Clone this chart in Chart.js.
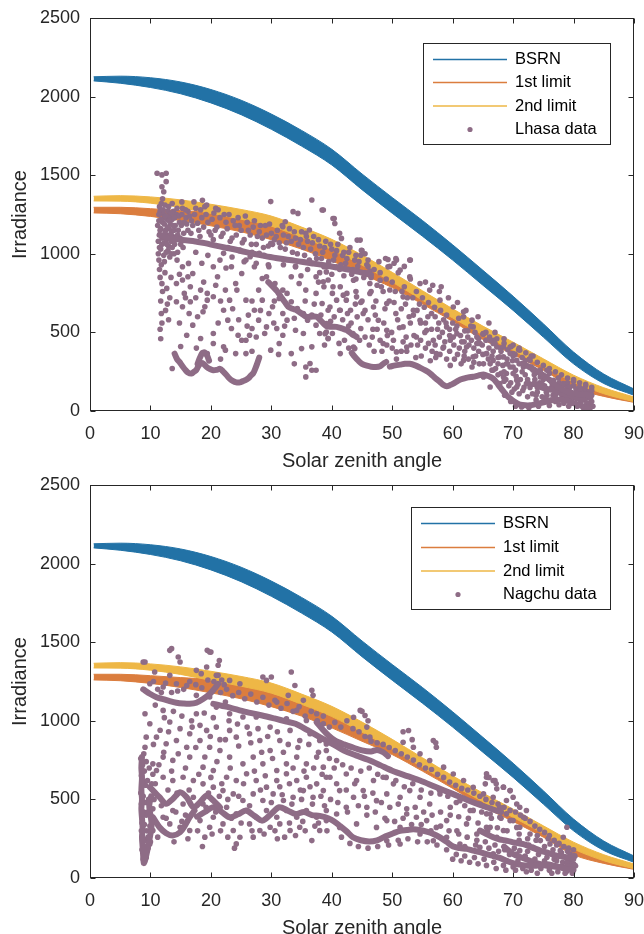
<!DOCTYPE html>
<html><head><meta charset="utf-8">
<script src="https://cdn.jsdelivr.net/npm/chart.js@4.4.1/dist/chart.umd.min.js"></script>
<style>
html,body{margin:0;padding:0;background:#fff;overflow:hidden;width:644px;height:934px;}
#w1{position:absolute;left:0;top:0;width:644px;height:475px;}
#w2{position:absolute;left:0;top:467px;width:644px;height:475px;}
canvas{display:block;}
</style></head><body>
<div id="w1"><canvas id="c1" width="644" height="475"></canvas></div>
<div id="w2"><canvas id="c2" width="644" height="475"></canvas></div>
<script>
// ---------------- data ----------------
const xTickValues = [0,10,20,30,40,50,60,70,80,90];
const yTickValues = [0,500,1000,1500,2000,2500];
const seriesNames = ['BSRN','1st limit','2nd limit'];
const dataNames = ['Lhasa data','Nagchu data'];

const zaGrid      = [0.6,5,10,15,20,25,30,35,40,45,50,55,60,65,70,75,80,85,90];
const bsrnUpper   = [2126,2130,2120,2093,2045,1977,1889,1785,1665,1508,1358,1212,1057,895,730,555,375,235,140];
const bsrnLower   = [2100,2085,2058,2018,1960,1885,1792,1685,1565,1408,1258,1112,960,800,640,470,300,175,100];
const limit1Upper = [1296,1296,1287,1275,1262,1228,1185,1115,1037,938,830,715,602,495,396,294,194,120,66];
const limit1Lower = [1260,1255,1238,1212,1178,1140,1090,1030,955,870,785,680,570,455,360,260,148,93,55];
const limit2Upper = [1366,1370,1362,1343,1315,1282,1240,1170,1092,992,882,765,650,540,438,332,228,148,89];
const limit2Lower = [1336,1335,1322,1295,1257,1220,1176,1105,1027,928,820,705,592,485,386,284,184,110,59];

const lhasaPoints = [
[11.1,1512],[11.9,1502],[12.6,1512],[11.9,1427],[12.6,1459],[12.2,1395],[12.0,1350],[13.6,1320],[15.2,1330],
[11.2,1180],[11.4,1250],[11.5,1300],[11.6,1150],[11.8,1220],[11.9,1100],[12.1,1280],[12.3,1190],[12.4,1130],[12.5,1240],[12.7,1060],[12.8,1170],[13.0,1300],[13.1,1210],[13.3,1120],[13.5,1260],[13.6,1040],[13.8,1180],[14.0,1230],[14.2,1100],[14.4,1290],[14.6,1150],[14.8,1200],[15.0,1060],[15.2,1250],[15.5,1130],[15.8,1280],[16.0,1190],[11.3,1000],[11.7,1030],[12.2,990],[12.6,1010],[13.2,980],[13.9,1000],
[11.5,900],[11.6,850],[11.9,810],[12.0,760],[11.7,700],[11.8,620],[11.9,560],[11.6,520],[11.7,460],[12.4,880],[12.7,780],[13.2,720],[12.5,640],[13.0,580],[13.6,270],
[14.4,960],[15.3,918],[16.3,939],[17.0,875],[16.2,854],[15.3,833],[14.3,811],[16.6,790],[15.6,748],[14.3,695],[15.3,663],[16.6,695],[18.3,769],[19.4,748],[19.0,663],[18.7,631],[20.4,918],[21.1,854],[22.1,1003],[23.4,918],[25.1,875],[24.1,811],[22.4,769],[20.4,727],[19.4,705],[18.3,461],[20.4,429],[22.1,408],[20.4,493],[17.0,546],[16.0,482],[19.4,365],[22.4,387],[23.4,525],[24.5,482],[25.1,450],[25.8,450],[24.1,365],[22.8,578],[22.1,641],[23.1,705],[24.3,769],[25.8,705],[26.2,610],[27.2,641],[27.9,578],[26.8,525],[26.4,482],[27.5,471],[28.9,493],[29.2,535],[29.6,620],[28.5,705],[27.9,769],[28.5,843],[29.6,918],[27.2,918],[25.8,960],[24.8,1024],[26.5,981],[28.0,1003],[29.9,1066],[25.8,365],
[29.2,854],[30.6,811],[31.9,769],[31.3,716],[32.6,748],[33.3,695],[34.3,652],[35.3,620],[36.0,578],[36.7,610],[37.4,546],[38.0,493],[39.1,503],[39.4,461],[35.3,493],[36.7,408],[35.7,280],[36.4,302],[36.7,259],[37.4,259],[35.7,217],[35.0,397],[31.9,482],[31.3,429],[29.9,387],[33.3,365],[30.9,525],[32.6,578],[34.0,514],[31.9,620],[30.2,663],[33.3,854],[34.6,811],[37.4,854],[38.7,790],[40.1,748],[37.4,748],[35.7,769],[34.0,918],[36.7,939],[38.7,918],[39.4,833],[40.8,705],[41.4,641],[40.4,599],[39.4,641],[38.4,684],[41.4,790],[42.5,748],[43.1,641],[44.2,599],[44.8,525],[43.5,493],[42.1,450],[43.8,397],[41.4,365],[40.1,493],
[29.9,1332],[36.7,1342],[38.4,1279],[33.6,1268],[34.4,1257],[32.3,1204],[36.3,1151],[40.4,1225],[44.2,1087],[31.9,1172],[35.7,1130],
[16.5,1240],[17.0,1180],[17.5,1290],[18.0,1150],[18.5,1230],[19.0,1300],[19.5,1200],[20.0,1120],[20.5,1260],[21.0,1170],[21.5,1230],[22.0,1130],[22.5,1200],[23.0,1250],[23.5,1100],[24.0,1180],[24.5,1230],[25.0,1150],[25.5,1090],[26.0,1200],[26.5,1120],[27.0,1170],[27.5,1060],[28.0,1140],[28.5,1100],[29.0,1180],[29.5,1050],[30.0,1130],[17.2,1330],[18.6,1340],[19.3,1310],[20.8,1290],
[30.5,1090],[31.0,1150],[31.5,1040],[32.0,1120],[32.5,1070],[33.0,1160],[33.5,1010],[34.0,1100],[34.5,1060],[35.0,1140],[35.5,990],[36.0,1080],[36.5,1030],[37.0,1110],[37.5,970],[38.0,1050],[38.5,1010],[39.0,1080],[39.5,950],[40.0,1030],[40.5,990],[41.0,1060],[41.5,930],[42.0,1010],[42.5,970],[43.0,1040],[43.5,900],[44.0,990],[44.5,950],[45.0,1020],[45.5,880],[46.0,960],
[38.6,1278],[40.2,1225],[40.5,1193],[41.3,1130],[41.6,1098],[44.7,1087],[44.9,1023],[49.3,964],[50.7,960],[52.9,960],[51.3,896],[49.3,917],[40.8,917],[39.1,885],[38.6,822],[40.2,790],[41.9,737],[42.4,705],[39.7,662],[39.1,556],[38.9,492],[39.4,461],[43.6,407],[41.3,641],[44.1,726],[46.3,811],[45.2,620],[46.9,662],[47.7,577],[49.1,514],[48.5,429],[50.2,450],[50.7,376],[52.4,407],[51.8,535],[53.5,641],[54.6,577],[54.0,471],[55.7,514],[56.8,450],[57.3,365],[58.5,407],[59.6,450],[59.0,535],[60.7,492],[62.3,407],[64.0,429],[61.8,322],[63.4,344],[65.6,365],[66.7,322],[68.4,344],[70.0,280],[68.9,238],[70.6,195],[54.6,811],[56.2,769],[57.9,705],[60.1,662],[61.8,599],[63.4,535],[65.1,492],[66.7,450],[68.4,407],[70.0,365],[51.8,726],[49.1,684],[46.3,747],[43.6,832],[48.0,832],[52.9,853],
[46.0,920],[46.5,850],[47.0,900],[47.5,800],[48.0,880],[48.5,760],[49.0,840],[49.5,700],[50.0,820],[50.5,760],[51.0,880],[51.5,650],[52.0,790],[52.5,720],[53.0,840],[53.5,610],[54.0,760],[54.5,680],[55.0,720],[55.5,560],[56.0,690],[56.5,620],[57.0,660],[57.5,520],[58.0,640],[58.5,580],[59.0,610],[59.5,480],[60.0,560],[60.5,520],[61.0,590],[61.5,440],[62.0,510],[62.5,470],[63.0,540],[63.5,400],[64.0,470],[64.5,430],[65.0,490],
[45.0,700],[45.5,640],[46.0,580],[46.8,520],[47.2,610],[48.0,450],[48.6,560],[49.2,480],[50.0,400],[50.6,620],[51.2,530],[51.8,440],[52.4,380],[53.0,560],[53.6,480],[54.2,420],[54.8,350],[55.4,500],[56.0,430],[56.6,380],[57.2,340],[57.8,470],[58.4,400],[59.0,330],[59.6,290],[60.2,420],[60.8,360],[61.4,300],[62.0,380],[62.6,330],[63.2,280],[63.8,350],[64.4,300],[65.0,360],[44.0,760],[44.8,690],[43.2,560],[42.6,620],[41.8,580],[45.5,470],[46.2,420],[47.0,380],
[48.9,970],[50.6,970],[53.0,960],[50.3,940],[52.0,920],[58.1,790],[61.8,631],[63.2,578],
[65.5,450],[66.0,400],[66.5,350],[67.0,430],[67.5,300],[68.0,380],[68.5,250],[69.0,330],[69.5,280],[70.0,350],[70.5,220],[71.0,300],[71.5,250],[72.0,320],[72.5,180],[73.0,280],[73.5,230],[74.0,150],[74.5,260],[75.0,200],[75.5,120],[76.0,240],[76.5,170],[77.0,100],[77.5,210],[78.0,150],[78.5,90],[79.0,180],[79.5,120],[80.0,200],[80.5,80],[81.0,150],[81.5,100],[82.0,170],[82.5,120],[83.0,60],[83.0,130],[82.2,50],[81.2,60],[79.8,50],[70.2,140],[71.8,150],[73.2,110],[74.8,90],[76.2,70],
[65.1,492],[66.2,450],[67.3,407],[65.6,365],[67.8,344],[69.5,365],[68.9,301],[70.6,323],[71.7,280],[66.7,259],[65.1,216],[68.4,216],[70.0,238],[72.8,323],[73.3,259],[74.5,216],[75.6,259],[76.7,195],[78.3,174],[79.4,153],[81.1,131],[82.2,110],[72.2,174],[70.6,153],[67.8,174],[66.2,153],[69.5,407],[71.1,386]
];

const lhasaMorePoints = [
[11.3,1080],[11.4,1210],[11.5,1040],[11.6,1270],[11.7,1160],[11.8,1320],[11.9,1060],[12.0,1200],[12.1,1110],[12.2,1250],[12.3,1070],[12.4,1310],[12.5,1150],[12.6,1090],[12.7,1220],[12.8,1120],[12.9,1270],[13.0,1050],[13.1,1160],[13.2,1240],[13.3,1190],[13.4,1080],[13.5,1140],[13.6,1220],[13.7,1110],[13.8,1270],[13.9,1150],[14.0,1060],[14.1,1180],[14.3,1250],[14.5,1120],[14.7,1240],[14.9,1100],[15.1,1180],[15.3,1290],[15.6,1200],[15.9,1230],[16.2,1150],[11.4,960],[11.8,930],[12.3,950],[12.9,1020],[13.4,1000],[14.5,1010],[15.4,1040],
[16.2,1270],[16.8,1210],[17.3,1250],[17.8,1195],[18.3,1280],[18.8,1170],[19.2,1250],[19.7,1140],[20.2,1220],[20.7,1150],[21.2,1280],[21.7,1110],[22.2,1250],[22.7,1160],[23.2,1080],[23.7,1210],[24.2,1120],[24.7,1180],[25.2,1070],[25.7,1240],[26.2,1150],[26.7,1060],[27.2,1210],[27.7,1110],[28.2,1180],[28.7,1040],[29.2,1120],[29.7,1190],[30.2,1060],[16.7,1130],[18.2,1110],[20.4,1090],[22.8,1040],[24.8,1020],[26.8,1010],[28.8,990],
[17.5,1010],[19.5,990],[21.5,960],[23.5,980],[25.5,950],[27.5,940],[29.5,930],[18.5,940],[22.5,910],
[30.8,1110],[31.3,1070],[31.8,1180],[32.3,1030],[32.8,1110],[33.3,1080],[33.8,1140],[34.3,1000],[34.8,1090],[35.3,1040],[35.8,1110],[36.3,960],[36.8,1070],[37.3,1000],[37.8,1090],[38.3,970],[38.8,1040],[39.3,920],[39.8,1060],[40.3,960],[40.8,1020],[41.3,900],[41.8,990],[42.3,940],[42.8,1010],[43.3,870],[43.8,960],[44.3,920],[44.8,990],[45.3,850],[45.8,930],[46.3,890],[32,930],[34,920],[36,900],[38,880],[40,870],[42,860],[44,840],
[46.5,760],[47.3,700],[48.2,790],[48.8,650],[49.6,770],[50.3,690],[50.9,580],[51.6,760],[52.2,680],[52.8,600],[53.4,720],[54.1,640],[54.7,560],[55.3,660],[55.9,600],[56.5,520],[57.1,600],[57.7,560],[58.3,500],[58.9,560],[59.5,520],[60.1,470],[60.7,540],[61.3,480],[61.9,440],[62.5,510],[63.1,450],[63.7,500],[64.3,460],[64.9,420],[65.5,500],[66.1,470],[66.7,430],[67.3,460],[67.9,400],[68.5,430],[69.1,390],[69.7,410],[70.3,360],[70.9,390],[71.5,340],[72.1,370],[72.7,330],[73.3,350],
[46.7,470],[47.5,520],[48.3,380],[49.1,420],[49.9,500],[50.7,330],[51.5,380],[52.3,470],[53.1,420],[53.9,340],[54.7,450],[55.5,400],[56.3,320],[57.1,420],[57.9,360],[58.7,440],[59.5,380],[60.3,330],[61.1,400],[61.9,350],[62.7,420],[63.5,310],[64.3,380],[65.1,300],[65.9,330],[66.7,380],[67.5,340],[68.3,290],[69.1,300],[69.9,320],
[55.5,820],[56.7,800],[57.8,760],[59.3,720],[60.8,690],[62.2,640],[64.2,600],[66.0,560],[45.5,1000],[47.8,950],[49.6,920],
[66.2,300],[67.1,270],[68.0,240],[68.8,200],[69.6,180],[70.4,260],[71.2,200],[72.0,230],[72.8,150],[73.6,200],[74.4,180],[75.2,160],[76.0,200],[76.8,140],[77.6,180],[78.4,120],[79.2,140],[80.0,160],[80.8,120],[81.6,140],[82.4,90],[83.0,100],[71.0,110],[72.4,90],[73.8,70],[75.0,60],[76.6,100],[78.0,80],[79.4,70],[80.6,100],[81.8,70],[82.8,40],
[74,310],[75,290],[76,270],[77,250],[78,230],[79,210],[80,190],[81,180],[82,160],[83,150],[73,350],[71,400],[70,420],[68.5,460],[67,500],
[14.8,870],[15.8,720],[17.5,720],[18.8,820],[20.8,800],[21.6,700],[23.6,650],[24.6,580],[26.8,700],[28.2,640],[30.4,560],[32.2,540],[33.8,590],[35.6,700],[37.1,680],[38.2,610],[39.8,570],[42.8,540],[43.9,680],[44.6,450],[17.8,600],[21.2,560],[26.0,540],[30.5,700],[34.9,860],[37.8,820],[12.8,680],[13.4,850],[14.8,560],[16.4,620],[15.0,410],[17.6,400],[21.6,330],[26.8,380],[31.2,360],[33.8,300],[38.8,420],[41.2,430],[42.8,400],
[66.5,260],[67.5,230],[68.5,190],[69.3,160],[70.8,170],[71.6,130],[72.4,200],[73.2,170],[74.0,120],[74.8,170],[75.6,100],[76.4,150],[77.2,130],[78.0,110],[78.8,160],[79.6,100],[80.4,140],[81.2,110],[82.0,130],[82.8,80],[83.2,30],[81.6,20],[80.6,30],[79.2,30],[77.6,40],[76.0,35],[74.2,30],[72.6,20],[71.4,25],[70.4,30],[69.6,60],[68.6,100],[69.8,120],[73.8,100],[75.4,80],[77.0,60],[78.4,50]
];

const lhasaTrails = [
[[11.5,1120],[13,1100],[15,1090],[17,1082],[19,1068],[21,1050],[23,1035],[25,1018],[27,1000],[29,985],[31,972],[33,960],[35,950],[37,938],[39,926],[41,912],[43,898],[45,880],[46.5,866]],
[[14.0,365],[14.4,330],[14.8,312],[15.3,285],[15.7,265],[16.2,245],[16.8,238],[17.2,250],[17.6,262],[18.0,290],[18.4,305],[18.8,300],[19.3,280],[19.8,268],[20.4,259],[21.0,262],[21.5,268],[22.0,252],[22.5,232],[23.1,206],[23.6,192],[24.2,182],[24.8,182],[25.3,190],[25.8,198],[26.2,208],[26.6,225],[27.0,240],[27.3,265],[27.6,295],[28.0,340]],
[[17.8,300],[18.2,340],[18.6,370],[19.0,372],[19.4,350],[19.7,320]],
[[43.3,370],[43.8,345],[44.4,320],[45.0,300],[45.8,288],[46.5,282],[47.3,280],[48.0,285],[48.5,300],[49.0,312]],
[[49.6,282],[50.5,290],[51.3,295],[52.1,300],[52.9,300],[53.8,290],[54.6,276],[55.5,258],[56.3,238],[57.1,210],[57.9,185],[58.5,165],[59.0,157],[59.6,165],[60.1,174],[61.0,195],[61.8,206],[62.6,214],[63.4,218],[64.2,225],[65.1,232],[65.9,222],[66.7,206],[67.3,180],[67.8,153],[68.4,125],[68.9,100],[69.5,80],[70.1,62],[70.7,48],[71.2,40],[72.0,36],[72.8,36],[73.6,42],[74.5,50],[75.6,60],[76.7,70],[77.8,72],[78.9,66],[80.0,50],[81.1,36],[82.0,24],[82.7,16]],
[[71.5,300],[72.7,280],[74.0,250],[75.4,217],[76.4,185],[77.4,153],[78.8,125],[80.2,110],[81.5,105],[82.9,100]],
[[73.5,175],[74.5,153],[75.6,140],[76.7,132],[77.8,115],[78.9,100],[80.0,88],[81.1,78],[82.0,82],[82.7,89]],
[[29.5,820],[30.3,790],[31.0,760],[31.6,726],[32.2,695],[32.8,663],[33.5,650],[34.2,641],[35.0,620],[35.8,599],[36.6,600],[37.5,599],[38.3,570],[39.1,540],[40.0,536],[40.8,535],[41.7,525],[42.5,514],[43.3,490],[44.1,472]]
];

const nagchuPoints = [
[8.8,1374],[13.2,1448],[14.6,1406],[19.4,1448],[20.0,1437],[21.4,1384],[33.3,1310],[13.5,1459],[19.8,1438],[14.9,1374],[21.2,1353],[19.3,1342],[9.1,1374],[10.7,1310],[13.2,1289],[17.6,1321],[18.4,1300],[20.9,1289],[23.1,1257],[24.8,1236],[28.6,1279],[30.0,1279],[29.2,1257],[33.9,1225],[36.7,1194],[36.9,1162],[35.3,1130],[32.8,1162],[30.9,1119],[34.2,1066],[37.5,1045],[38.6,981],[35.8,1002],[32.5,1013],[29.8,960],[27.5,1024],[25.3,1024],[23.1,1045],[20.9,1087],[19.8,1151],[17.6,1162],[16.0,1225],[14.3,1236],[12.1,1215],[9.9,1236],
[9.1,1045],[12.1,1066],[9.9,981],[13.2,992],[17.6,1045],[18.2,971],[19.3,939],[16.5,918],[20.9,960],[23.1,939],[24.2,896],[26.4,918],[28.1,875],[29.8,811],[31.4,875],[33.1,939],[34.7,875],[36.4,918],[38.0,875],[39.1,811],[37.5,769],[35.8,726],[34.2,769],[32.5,726],[30.9,684],[28.6,726],[27.0,769],[25.3,726],[23.1,769],[21.5,811],[19.8,832],[18.2,875],[16.0,832],[14.3,875],[12.6,854],[11.0,896],[9.3,896],[9.1,832],[13.7,748],[12.1,769],[10.4,726],[16.5,769],[18.7,705],[20.4,684],[22.6,641],[24.2,620],[25.9,663],[27.5,620],[29.2,578],[30.9,620],[32.5,663],[34.2,620],[35.8,641],[37.5,599],[39.1,641],[38.6,556],[36.9,514],[35.3,556],[33.6,514],[32.0,493],[30.3,535],[28.6,493],[27.0,535],[25.3,493],[23.7,535],[22.0,556],[20.4,578],[18.7,599],[17.1,620],[15.4,641],[13.7,620],[12.1,641],[11.0,684],
[22.6,450],[24.2,408],[25.9,429],[27.5,386],[29.2,429],[30.9,386],[32.5,429],[34.2,386],[35.8,429],[37.5,386],[39.1,429],[20.4,386],[22.0,344],[23.7,302],[24.8,259],[26.4,344],[28.1,302],[29.8,323],[31.4,344],[33.1,302],[34.7,323],[36.7,238],[38.0,302],[24.2,217],[19.8,323],[18.2,365],[16.5,302],[14.9,323],[13.2,344],[12.1,386],[13.7,429],[15.4,471],[17.1,514],[18.7,471],[10.4,302],[9.9,217],[9.3,174],
[44.7,1066],[45.5,1034],[43.6,1023],[45.8,960],[46.3,896],[52.7,938],[51.8,864],[53.5,832],[54.6,790],[56.8,875],[57.3,832],[56.2,747],[58.5,705],[60.1,662],[61.8,620],[63.4,577],[65.6,641],[66.7,620],[68.4,577],[69.5,556],[39.1,853],[40.8,747],[38.6,705],[39.7,641],[42.4,662],[44.1,620],[41.3,556],[43.6,514],[45.2,556],[46.9,620],[48.5,641],[50.2,599],[49.1,535],[47.4,492],[45.8,450],[51.3,514],[52.9,556],[54.6,514],[56.2,471],[57.9,535],[59.6,450],[61.2,492],[62.9,429],[64.5,471],[66.2,407],[67.8,450],[69.5,365],[70.6,322],[42.4,450],[40.8,407],[39.1,365],[41.3,322],[44.1,344],[52.4,407],[54.0,386],[55.7,365],[57.3,322],[59.0,365],[60.7,301],[62.3,344],[64.0,280],[65.6,322],[67.3,259],[68.9,237],[64.5,195],[66.7,152],[68.9,110],[70.6,152],[61.2,216],[59.0,259],[56.8,237],[54.6,280],[51.3,322],[49.1,365],[47.4,322],[51.3,216],[49.1,237],
[65.6,663],[67.0,620],[68.4,578],[69.5,556],[65.1,535],[66.7,514],[68.9,493],[70.6,471],[72.2,429],[71.7,386],[70.0,365],[67.8,386],[65.6,408],[66.2,323],[68.4,302],[71.1,323],[72.8,280],[74.5,238],[76.1,217],[77.8,174],[79.4,153],[75.6,132],[77.2,110],[78.9,100],[80.0,121],[66.7,153],[71.1,174],[73.3,195],[78.3,259],[78.9,323],[68.9,408],[71.1,450],[70.0,514],[65.4,599],[67.3,567],
[45.0,1060],[46.0,1000],[51.8,930],[53.3,880],[57.2,860],[66.0,640],[67.2,600]
];

const nagchuMorePoints = [
[8.4,760],[8.7,720],[9.0,680],[8.5,650],[8.9,610],[9.2,590],[8.6,600],[8.4,540],[8.8,520],[9.2,480],[8.5,470],[8.9,420],[9.3,400],[8.6,350],[9.0,340],[9.4,300],[8.5,300],[8.9,250],[9.2,240],[8.6,180],[9.0,180],[8.8,120],[9.3,130],[9.6,260],[9.9,330],[10.3,300],[10.5,360],[10.4,440],[9.7,500],[10.2,600],[9.5,620],[9.8,700],[10.4,660],[9.3,740],[8.9,790],[9.6,420],[10.0,230],[9.6,190],
[10.5,1250],[11.2,1200],[11.8,1180],[12.5,1240],[13.5,1180],[14.5,1190],[15.5,1200],[16.5,1250],[17.5,1230],[18.5,1210],[19.5,1260],[20.5,1250],[21.2,1290],[21.8,1260],[22.2,1230],[10.8,1100],[12.3,1020],[13.8,1060],[15.2,1030],[16.8,1000],[18.9,1050],[20.4,1020],[21.6,1180],[22.4,1120],[11.6,940],[13.0,930],[14.9,950],[16.9,960],[19.9,900],[21.5,880],[10.5,850],[12.2,800],[14.6,790],[17.5,830],[19.0,770],[21.0,740],[11.4,720],[13.5,680],[15.8,700],[18.0,660],[20.0,640],[21.8,600],[10.8,600],[12.9,560],[14.4,540],[16.4,560],[19.6,540],[21.4,520],[11.8,460],[14.2,420],[15.8,400],[19.2,450],[20.8,420],[10.6,500],[12.6,380],[15.2,360],[17.8,300],[20.2,280],[21.6,300],[11.2,260],[13.9,230],[16.2,250],[19.0,260],[22.8,260],[18.6,200],[23.9,190],
[22.6,1200],[23.6,1160],[24.6,1180],[25.6,1140],[26.6,1170],[27.6,1120],[28.6,1150],[29.6,1100],[30.6,1130],[31.6,1080],[32.6,1110],[33.6,1060],[34.6,1090],[35.6,1030],[36.6,1060],[37.6,1000],[38.6,1030],[39.6,960],[23.0,1000],[24.4,980],[26.0,960],[27.8,950],[29.4,900],[31.0,930],[32.8,850],[34.4,830],[36.2,850],[37.8,800],[39.6,760],[22.4,880],[24.6,840],[26.6,860],[28.4,800],[30.2,760],[32.0,800],[33.6,700],[35.4,680],[37.0,700],[38.4,660],[23.2,700],[25.4,600],[27.2,680],[29.0,650],[31.4,580],[33.0,600],[34.8,560],[36.4,580],[38.2,520],[39.8,500],[22.8,500],[24.6,520],[26.4,460],[28.2,560],[30.0,480],[31.8,530],[33.4,470],[35.0,500],[36.8,470],[38.8,460],[23.4,380],[25.0,350],[26.8,300],[28.8,280],[30.6,300],[32.2,260],[34.0,270],[35.6,300],[37.2,330],[39.2,300],[27.0,260],[31.0,250],[33.0,350],[35.2,360],[37.8,350],
[40.5,990],[41.5,960],[42.5,1000],[43.5,950],[44.5,930],[45.5,900],[46.5,870],[47.5,860],[48.5,850],[49.5,830],[50.5,810],[51.5,790],[52.5,770],[53.5,750],[54.5,720],[55.5,700],[56.5,690],[57.5,660],[58.5,640],[59.5,610],[60.5,590],[61.5,570],[62.5,560],[63.5,540],[64.5,520],[65.5,500],[66.5,480],[67.5,470],[68.5,450],[69.5,430],
[40.4,700],[41.8,720],[43.2,700],[44.8,680],[46.2,700],[47.6,660],[49.0,640],[50.6,620],[52.0,580],[53.4,600],[54.8,560],[56.4,540],[57.8,560],[59.2,520],[60.6,480],[62.0,460],[63.4,430],[64.8,420],[66.4,380],[68.0,380],
[40.8,600],[42.4,560],[43.8,600],[45.4,520],[46.8,540],[48.2,480],[49.6,450],[51.0,470],[52.4,440],[53.8,450],[55.2,420],[56.6,400],[58.0,420],[59.6,400],[61.0,390],[62.6,380],[64.2,350],[65.8,300],[67.4,320],[69.0,300],
[41.0,480],[42.6,420],[44.4,460],[45.8,400],[47.2,420],[48.8,380],[50.4,360],[51.8,380],[53.2,340],[54.8,340],[56.4,300],[58.0,330],[59.4,300],[61.0,280],[62.4,260],[64.0,240],[65.4,230],[67.0,210],[68.6,180],[70.2,190],
[41.6,260],[43.0,220],[44.4,200],[46.0,190],[47.6,200],[49.4,210],[51.0,240],[52.6,250],[54.2,230],[55.8,230],[57.4,210],[59.0,180],[60.6,150],[62.0,140],[63.6,130],[65.2,120],[66.8,100],[68.4,80],[70.0,70],
[70.4,420],[71.2,400],[72.0,380],[72.8,360],[73.6,330],[74.4,310],[75.2,290],[76.0,270],[76.8,240],[77.6,220],[78.4,200],[79.2,190],[80.0,180],[71.0,280],[72.4,250],[73.8,240],[75.2,200],[76.6,180],[78.0,160],[79.4,110],[71.6,60],[73.0,50],[74.6,60],[76.0,50],[77.4,40],[78.8,40],[80.0,90],[72.0,140],[73.6,120],[75.2,110],[76.8,120],[78.2,100],[79.6,90],[70.8,110],[72.4,170],[74.2,150],
[60.0,120],[61.4,110],[62.8,100],[64.2,90],[65.6,80],[67.2,60],[68.8,50],[70.4,50],[72.2,40],[74.0,30],[76.4,30],[78.6,30],[79.8,30],[62.0,200],[63.8,210],[66.0,190],[67.6,170],[69.4,150],[71.0,240],[72.6,210],[74.0,270],[75.8,250],[77.2,210],[79.0,170],[80.0,140]
];

const nagchuTrails = [
[[8.6,770],[8.5,700],[8.6,640],[8.5,560],[8.6,500],[8.5,440],[8.6,380],[8.7,320],[8.6,260],[8.7,200],[8.8,140],[8.9,95],[9.1,110],[9.4,160],[9.7,220],[10.0,280],[10.2,340],[10.0,400],[9.8,460],[10.1,520]],
[[9.9,578],[11.5,514],[12.6,472],[13.7,503],[14.9,546],[16.0,514],[17.1,450],[18.2,482],[19.3,525],[20.4,493],[21.5,450]],
[[10.4,387],[11.5,323],[12.6,285],[13.7,270],[14.9,291],[15.7,333],[16.5,387],[17.3,429]],
[[8.8,1200],[9.9,1172],[11,1150],[12.1,1138],[13.2,1125],[14.3,1115],[15.4,1110],[16.5,1108],[17.6,1115],[18.7,1138],[19.8,1170],[20.6,1205],[21.2,1235]],
[[17.7,390],[19,420],[20.4,450],[21.8,420],[23.1,386],[24.5,405],[25.8,429],[27.2,395],[28.5,365],[29.9,405],[31.3,450],[32.7,430],[34.0,407],[35.4,420],[36.7,400],[38,395],[39.4,380],[40.4,360],[41.4,330],[42.5,295],[43.5,259],[44.8,240],[46.2,232],[47.5,240],[48.9,265],[50.2,285],[51.3,300],[52.4,305],[53.5,310],[54.6,305],[55.7,295],[56.8,280],[57.9,258],[59.0,230],[60.1,200],[61.2,190],[62.3,185],[63.4,174],[64.5,165],[65.6,152],[66.7,140],[67.8,128],[69.2,105],[70.6,88],[72.0,80],[73.4,78],[74.5,82],[75.6,88],[76.7,78],[77.8,67],[78.9,55],[80.0,50]],
[[20.4,1108],[22.5,1090],[24.5,1070],[26.5,1050],[28.5,1034],[30.5,1015],[32.5,995],[34,981],[36,940],[38,896],[40,855],[42,811],[44,780],[46,752],[48,718],[50,682],[52.5,648],[54.6,620],[57,582],[60,535],[62.5,495],[65.6,450],[68,420]],
[[37.5,990],[38.5,945],[39.5,905],[40.5,875],[42,850],[43.5,830],[45,812],[46.5,805],[47.5,815],[48.5,800],[49.3,775]],
[[64.5,302],[65.6,280],[66.7,259],[67.8,245],[68.9,238],[70.3,225],[71.7,216],[73.1,195],[74.5,174],[75.9,158],[77.2,142],[78.3,135],[79.4,131],[80.2,140]],
[[68.5,200],[70,153],[71.4,130],[72.8,110],[74.2,92],[75.6,78],[77,72],[78.3,68],[79.3,72],[80.3,78]]
];

// ---------------- style ----------------
const FONT = '"Liberation Sans", Arial, Helvetica, sans-serif';
const AXIS = '#262626';
const C_BSRN = '#2272a6';
const C_L1 = '#db7d3e';
const C_L2 = '#eeb746';
const C_DATA = '#8e6c86';

const framePlugin = {
  id: 'frame',
  afterDatasetsDraw(chart) {
    const {ctx, chartArea: a, scales: {x, y}} = chart;
    const L = Math.round(a.left) + 0.5, R = Math.round(a.right) - 0.5;
    const T = Math.round(a.top) + 0.5, B = Math.round(a.bottom) - 0.5;
    ctx.save();
    ctx.strokeStyle = AXIS; ctx.lineWidth = 1;
    ctx.strokeRect(L, T, R - L, B - T);
    const tl = 5;
    ctx.beginPath();
    x.ticks.forEach(t => {
      const px = Math.round(x.getPixelForValue(t.value)) + 0.5;
      ctx.moveTo(px, B); ctx.lineTo(px, B - tl);
      ctx.moveTo(px, T); ctx.lineTo(px, T + tl);
    });
    y.ticks.forEach(t => {
      const py = Math.round(y.getPixelForValue(t.value)) + 0.5;
      ctx.moveTo(L, py); ctx.lineTo(L + tl, py);
      ctx.moveTo(R, py); ctx.lineTo(R - tl, py);
    });
    ctx.stroke();
    ctx.restore();
  }
};

const boxLegend = {
  id: 'boxLegend',
  afterDraw(chart, args, o) {
    const ctx = chart.ctx;
    ctx.save();
    ctx.fillStyle = '#fff';
    ctx.fillRect(o.x0, o.y0, o.x1 - o.x0, o.y1 - o.y0);
    ctx.strokeStyle = AXIS; ctx.lineWidth = 1;
    ctx.strokeRect(o.x0 + 0.5, o.y0 + 0.5, o.x1 - o.x0, o.y1 - o.y0);
    ctx.font = '16.5px ' + FONT;
    ctx.textBaseline = 'middle';
    o.items.forEach((it, i) => {
      const yy = o.rowY[i];
      if (it.kind === 'line') {
        ctx.strokeStyle = it.color; ctx.lineWidth = 1.6;
        ctx.beginPath(); ctx.moveTo(o.lx0, yy); ctx.lineTo(o.lx1, yy); ctx.stroke();
      } else {
        ctx.fillStyle = it.color;
        ctx.beginPath(); ctx.arc(o.dotX, yy, 2.6, 0, Math.PI * 2); ctx.fill();
      }
      ctx.fillStyle = '#000';
      ctx.fillText(it.text, o.tx, yy);
    });
    ctx.restore();
  }
};

function toXY(xs, ys) { return xs.map((x, i) => ({x: x, y: ys[i]})); }
function pairs(arr) { return arr.map(p => ({x: p[0], y: p[1]})); }

function makeChart(id, points, morePoints, trails, leg) {
  const datasets = [];
  const band = (up, lo, color, order) => {
    datasets.push({data: toXY(zaGrid, up), borderColor: color, backgroundColor: color, borderWidth: 1,
      pointRadius: 0, fill: '+1', order: order, cubicInterpolationMode: 'monotone'});
    datasets.push({data: toXY(zaGrid, lo), borderColor: color, backgroundColor: color, borderWidth: 1,
      pointRadius: 0, fill: false, order: order, cubicInterpolationMode: 'monotone'});
  };
  band(bsrnUpper, bsrnLower, C_BSRN, 3);
  band(limit1Upper, limit1Lower, C_L1, 2);
  band(limit2Upper, limit2Lower, C_L2, 1);
  trails.forEach(t => datasets.push({data: pairs(t), borderColor: C_DATA, borderWidth: 6, pointRadius: 0,
    fill: false, tension: 0.3, order: 0, borderCapStyle: 'round', borderJoinStyle: 'round'}));
  [points, morePoints].forEach(p => datasets.push({data: pairs(p), showLine: false, pointRadius: 2.8,
    pointBackgroundColor: C_DATA, pointBorderWidth: 0, borderColor: C_DATA, order: 0}));

  const tickFont = {family: FONT, size: 18};
  const titleFont = {family: FONT, size: 20, lineHeight: 1};
  return new Chart(document.getElementById(id), {
    type: 'line',
    data: {datasets: datasets},
    plugins: [framePlugin, boxLegend],
    options: {
      responsive: false, animation: false, events: [],
      layout: {padding: {top: 18, right: 10, bottom: 0, left: 0}},
      plugins: {
        legend: {display: false}, tooltip: {enabled: false},
        boxLegend: leg
      },
      scales: {
        x: {type: 'linear', min: 0, max: 90,
          afterBuildTicks: s => { s.ticks = xTickValues.map(v => ({value: v})); },
          ticks: {color: AXIS, font: tickFont, padding: 12, maxRotation: 0, autoSkip: false, callback: v => String(v)},
          grid: {display: false, drawTicks: false}, border: {display: false},
          title: {display: true, text: 'Solar zenith angle', color: AXIS, font: titleFont, padding: {top: 0, bottom: 4}},
          afterFit: s => { s.height = 64; s.paddingLeft = 0; s.paddingRight = 0; }
        },
        y: {type: 'linear', min: 0, max: 2500,
          afterBuildTicks: s => { s.ticks = yTickValues.map(v => ({value: v})); },
          ticks: {color: AXIS, font: tickFont, padding: 10, autoSkip: false, callback: v => String(v)},
          grid: {display: false, drawTicks: false}, border: {display: false},
          title: {display: true, text: 'Irradiance', color: AXIS, font: titleFont, padding: {top: 10, bottom: 0}},
          afterFit: s => { s.width = 90; s.paddingTop = 0; s.paddingBottom = 0; }
        }
      }
    }
  });
}

function legendItems(dataLabel) {
  return [
    {kind: 'line', color: C_BSRN, text: seriesNames[0]},
    {kind: 'line', color: C_L1, text: seriesNames[1]},
    {kind: 'line', color: C_L2, text: seriesNames[2]},
    {kind: 'dot', color: C_DATA, text: dataLabel}
  ];
}

makeChart('c1', lhasaPoints, lhasaMorePoints, lhasaTrails, {
  x0: 423, y0: 43, x1: 610, y1: 144, rowY: [59.5, 82.5, 106, 129.5],
  lx0: 433, lx1: 507, tx: 515, dotX: 470, items: legendItems(dataNames[0])
});
makeChart('c2', nagchuPoints, nagchuMorePoints, nagchuTrails, {
  x0: 411, y0: 40, x1: 610, y1: 142, rowY: [56.5, 80.5, 104, 127.5],
  lx0: 421, lx1: 495, tx: 503, dotX: 458, items: legendItems(dataNames[1])
});
</script>
</body></html>
